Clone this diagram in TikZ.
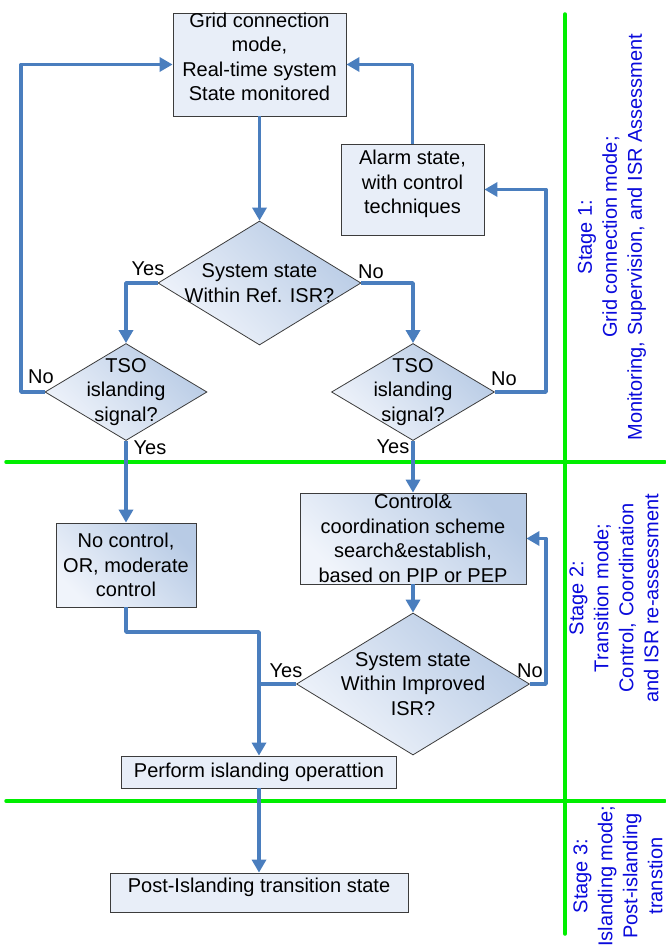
\documentclass[tikz,border=0pt]{standalone}
\usepackage{fontspec}
\setmainfont{Liberation Sans}
\usetikzlibrary{arrows.meta,shapes.geometric}
\definecolor{flowblue}{RGB}{74,126,190}
\definecolor{boxlt}{RGB}{232,238,248}
\definecolor{boxpale}{RGB}{240,244,251}
\definecolor{boxdk}{RGB}{184,203,229}
\definecolor{edgegray}{RGB}{60,60,60}
\definecolor{stagegreen}{RGB}{0,238,0}
\definecolor{stageblue}{RGB}{10,10,220}
\newcommand\zw[1]{\makebox[0pt]{#1}}
\newcommand\dn[1]{\rule[-#1]{0pt}{#1}}
\begin{document}
\begin{tikzpicture}[x=1pt,y=-1pt,
  font=\fontsize{20}{24.5}\selectfont,
  plainbox/.style={rectangle,draw=edgegray,line width=0.8pt,fill=boxlt,inner sep=0pt,align=center},
  gradbox/.style={rectangle,draw=edgegray,line width=0.8pt,inner sep=0pt,align=center,
    top color=boxdk,bottom color=boxpale,shading angle=-45},
  decision/.style={diamond,draw=edgegray,line width=0.8pt,inner sep=0pt,align=center,
    top color=boxdk,bottom color=boxpale,shading angle=-45},
  flow/.style={draw=flowblue,line width=3.8pt,line join=round,-{Triangle[width=14pt,length=13pt]}},
  link/.style={draw=flowblue,line width=3.8pt,line join=round},
  lbl/.style={inner sep=0pt},
  stagetext/.style={text=stageblue,rotate=90,align=center,inner sep=0pt,font=\fontsize{20}{25}\selectfont},
  stageline/.style={draw=stagegreen,line width=3.5pt,line cap=round}]

\useasboundingbox[fill=white] (0,0) rectangle (665,950);

% stage separators
\draw[stageline] (6,462) -- (665,462);
\draw[stageline] (6,801) -- (665,801);
\draw[stageline] (565,14) -- (565,934);

% stage texts
\node[stagetext] (s1) at (612,237) {Stage 1:\\Grid connection mode;\\Monitoring, Supervision, and ISR Assessment};
\node[stagetext] (s2) at (614,598) {Stage 2:\\Transition mode;\\Control, Coordination\\and ISR re-assessment};
\node[stagetext] (s3) at (618,876) {Stage 3:\\Islanding mode;\\Post-islanding\\transtion};

% nodes
\node[plainbox,minimum width=173pt,minimum height=103pt] (top) at (259.5,64.5)
  {Grid connection\\mode,\\Real-time system\\State monitored\dn{15pt}};
\node[plainbox,minimum width=143pt,minimum height=91pt] (alarm) at (412.5,189.5)
  {Alarm state,\\with control\\techniques\dn{15pt}};
\node[decision,minimum width=203pt,minimum height=124pt] (d1) at (259.5,283)
  {\zw{System state}\\\zw{Within Ref. ISR?}};
\node[decision,minimum width=162pt,minimum height=97pt] (d2) at (126,392)
  {\zw{TSO}\\\zw{islanding}\\\zw{signal?}};
\node[decision,minimum width=163pt,minimum height=97pt] (d3) at (413,392)
  {\zw{TSO}\\\zw{islanding}\\\zw{signal?}};
\node[gradbox,minimum width=140pt,minimum height=84pt] (noctrl) at (126,565)
  {No control,\\OR, moderate\\control};
\node[gradbox,minimum width=226pt,minimum height=91pt] (ctrl) at (413,538.5)
  {Control\&\\coordination scheme\\search\&establish,\\based on PIP or PEP};
\node[decision,minimum width=233pt,minimum height=142pt] (d4) at (413,684)
  {\zw{System state}\\\zw{Within Improved}\\\zw{ISR?}};
\node[plainbox,minimum width=275pt,minimum height=32pt] (perform) at (259,772)
  {Perform islanding operattion};
\node[plainbox,minimum width=298pt,minimum height=39pt] (post) at (259,892.5)
  {Post-Islanding transition state\dn{14pt}};

% helper coordinates
\coordinate (cL) at (21,64.5);
\coordinate (cR1) at (546,189.5);
\coordinate (cR2) at (546,538.5);
\coordinate (cJ) at (259,684);
\coordinate (cM) at (259,632);

% connectors
\draw[flow] (top.south) -- (d1.north);
\draw[flow] (d1.west) -| (d2.north);
\draw[flow] (d1.east) -| (d3.north);
\draw[flow] (d2.west) -| (cL) -- (top.west);
\draw[flow] (d3.east) -| (cR1) -- (alarm.east);
\draw[flow] (alarm.north) |- (top.east);
\draw[flow] (d2.south) -- (noctrl.north);
\draw[flow] (d3.south) -- (ctrl.north);
\draw[flow] (ctrl.south) -- (d4.north);
\draw[flow] (d4.east) -| (cR2) -- (ctrl.east);
\draw[link] (d4.west) -- (cJ);
\draw[flow] (noctrl.south) |- (cM) -- (perform.north);
\draw[flow] (perform.south) -- (post.north);

% labels
\node[lbl] (y1) at (148,269) {Yes};
\node[lbl] (n1) at (371,272) {No};
\node[lbl] (n2) at (41,377) {No};
\node[lbl] (y2) at (150,448) {Yes};
\node[lbl] (n3) at (504,379) {No};
\node[lbl] (y3) at (393,447) {Yes};
\node[lbl] (y4) at (286,671) {Yes};
\node[lbl] (n4) at (530,671) {No};
\end{tikzpicture}
\end{document}
